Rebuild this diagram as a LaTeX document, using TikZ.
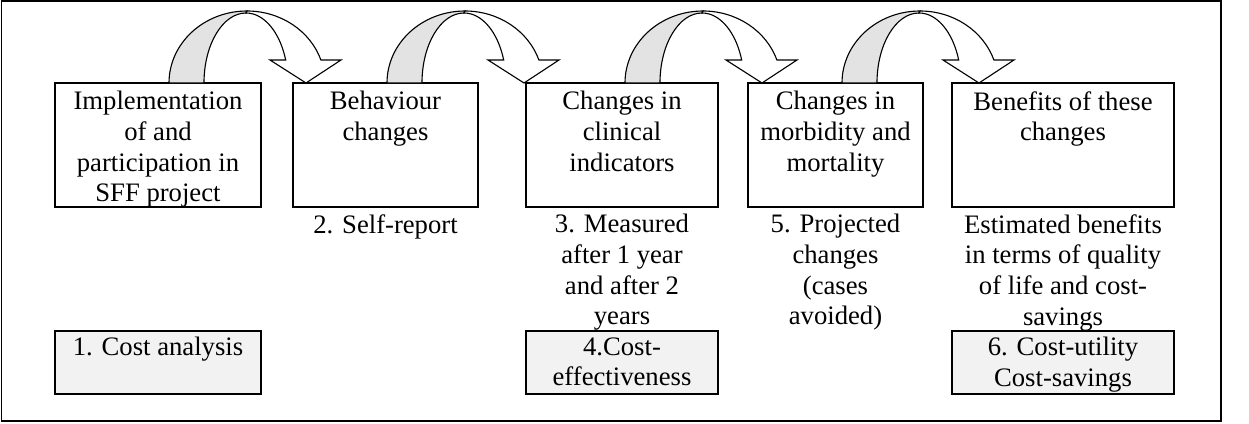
\documentclass[tikz,border=0pt]{standalone}
\usepackage{fontspec}
\setmainfont{Liberation Serif}
\begin{document}
\begin{tikzpicture}[x=.45pt,y=.45pt,
  stage/.style={draw,line width=.9pt,minimum height=55.8pt},
  cost/.style={draw,line width=.9pt,fill=gray!10,minimum height=28.35pt},
  txt/.style={anchor=north,align=center,inner sep=0pt,font=\fontsize{12}{13.8}\selectfont}]
\useasboundingbox (0,0) rectangle (1249,423);
\draw[line width=.7pt] (1.5,2) rectangle (1221,422);
% stages
\node[stage,minimum width=92.7pt] (b1) at (158,278) {};
\node[stage,minimum width=83.25pt] (b2) at (385.5,278) {};
\node[stage,minimum width=86.4pt] (b3) at (622,278) {};
\node[stage,minimum width=78.75pt] (b4) at (835.5,278) {};
\node[stage,minimum width=99.9pt] (b5) at (1063,278) {};
\node[txt] (t1) at (158,332) {Implementation\\of and\\participation in\\SFF project};
\node[txt] (t2) at (385.5,332) {Behaviour\\changes};
\node[txt] (t3) at (622,332) {Changes in\\clinical\\indicators};
\node[txt] (t4) at (835.5,332) {Changes in\\morbidity and\\mortality};
\node[txt] (t5) at (1063,332) {Benefits of these\\changes};
% what is measured
\node[txt] (m2) at (385.5,209) {2. Self-report};
\node[txt] (m3) at (622,209) {3. Measured\\after 1 year\\and after 2\\years};
\node[txt] (m5) at (835.5,209) {5. Projected\\changes\\(cases\\avoided)};
\node[txt] (m6) at (1063,209) {Estimated benefits\\in terms of quality\\of life and cost-\\savings};
% economic analyses
\node[cost,minimum width=92.7pt] (c1) at (158,60.5) {};
\node[cost,minimum width=86.4pt] (c4) at (622,60.5) {};
\node[cost,minimum width=99.9pt] (c6) at (1063,60.5) {};
\node[txt] (k1) at (158,86) {1. Cost analysis};
\node[txt] (k4) at (622,86) {4.Cost-\\effectiveness};
\node[txt] (k6) at (1063,86) {6. Cost-utility\\Cost-savings};
% curved arrows
\foreach \x in {169,387,625,842}{
  \draw[line width=.5pt,fill=gray!22] (\x,340) arc[start angle=180,end angle=90,x radius=78,y radius=72]
    -- (\x+77,410) arc[start angle=90,end angle=180,x radius=42,y radius=70] -- cycle;
  \draw[line width=.5pt,fill=white] (\x+78,412) arc[start angle=90,end angle=18.63,x radius=78,y radius=72]
    -- (\x+172,363) -- (\x+137,340) -- (\x+101,363) -- (\x+116.7,363)
    arc[start angle=19.18,end angle=90,x radius=42,y radius=70] -- cycle;
}
\end{tikzpicture}
\end{document}
